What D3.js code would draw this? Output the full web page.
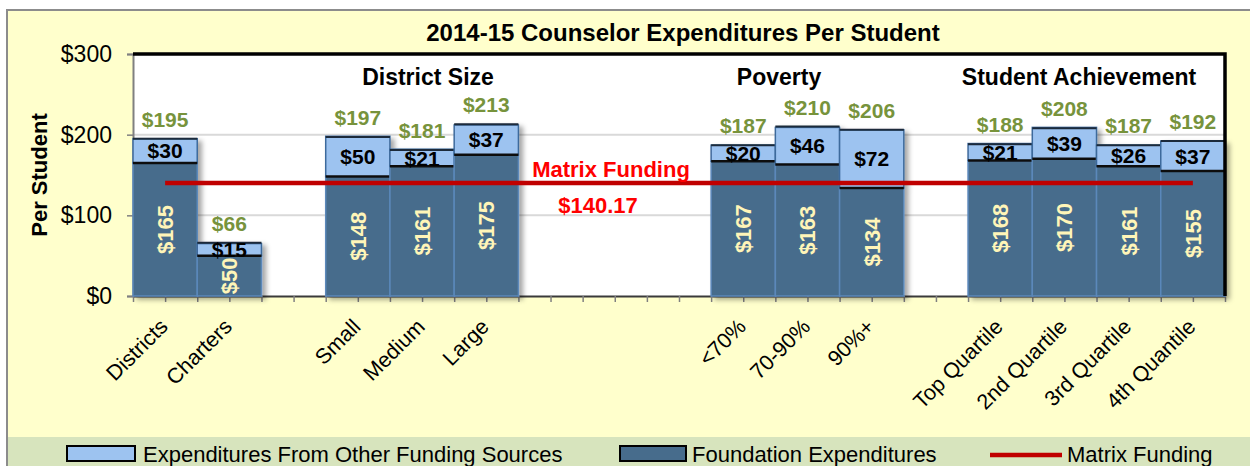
<!DOCTYPE html>
<html>
<head>
<meta charset="utf-8">
<script src="https://cdn.jsdelivr.net/npm/d3@7"></script>
<style>
  body { margin: 0; background: #fff; }
  svg text { font-family: "Liberation Sans Narrow", "Arial Narrow", "Liberation Sans", sans-serif; }
</style>
</head>
<body>
<svg id="chart" width="1250" height="466"></svg>
<script>
// slots with "" are the empty spacer columns between groups
const categories = ["Districts", "Charters", "", "Small", "Medium", "Large", "", "", "",
  "<70%", "70-90%", "90%+", "", "Top Quartile", "2nd Quartile", "3rd Quartile", "4th Quantile"]
const foundation = [165, 50, 0, 148, 161, 175, 0, 0, 0, 167, 163, 134, 0, 168, 170, 161, 155]
const otherSources = [30, 15, 0, 50, 21, 37, 0, 0, 0, 20, 46, 72, 0, 21, 39, 26, 37]
const totals = [195, 66, 0, 197, 181, 213, 0, 0, 0, 187, 210, 206, 0, 188, 208, 187, 192]
const matrixFunding = 140.17
const groupLabels = ["District Size", "Poverty", "Student Achievement"]
const yTicks = [0, 100, 200, 300]

const svg = d3.select("#chart")

const plotLeft = 133, plotRight = 1225, plotTop = 54, plotBottom = 296

const x = d3.scaleBand()
  .domain(d3.range(categories.length))
  .range([plotLeft, plotRight])
  .padding(0)
const bw = x.bandwidth()

const y = d3.scaleLinear()
  .domain([0, 300])
  .range([plotBottom, plotTop])

// drop shadow for bars
const defs = svg.append("defs")
defs.append("filter")
  .attr("id", "shadow")
  .attr("x", "-10%").attr("y", "-10%").attr("width", "130%").attr("height", "130%")
  .append("feDropShadow")
  .attr("dx", 4).attr("dy", 3)
  .attr("stdDeviation", 2.5)
  .attr("flood-color", "#000")
  .attr("flood-opacity", 0.35)

// chart background + frame
svg.append("rect")
  .attr("x", 7).attr("y", 10)
  .attr("width", 1250).attr("height", 470)
  .attr("fill", "#FFFFCC")
  .attr("stroke", "#8C8C8C")
  .attr("stroke-width", 2)

// legend band
svg.append("rect")
  .attr("x", 8).attr("y", 437)
  .attr("width", 1242).attr("height", 30)
  .attr("fill", "#D7E4BD")

// plot area
svg.append("rect")
  .attr("x", plotLeft).attr("y", plotTop)
  .attr("width", plotRight - plotLeft).attr("height", plotBottom - plotTop)
  .attr("fill", "#fff")

svg.append("g")
  .selectAll("line")
  .data([100, 200])
  .enter()
  .append("line")
  .attr("x1", plotLeft).attr("x2", plotRight)
  .attr("y1", d => y(d)).attr("y2", d => y(d))
  .attr("stroke", "#D9D9D9")
  .attr("stroke-width", 2)

// title
svg.append("text")
  .attr("x", 683).attr("y", 41)
  .attr("text-anchor", "middle")
  .attr("font-size", 24)
  .attr("font-weight", "bold")
  .text("2014-15 Counselor Expenditures Per Student")

// y axis
const yAxis = svg.append("g")
  .attr("transform", "translate(" + plotLeft + ",0)")
  .call(d3.axisLeft(y).tickValues(yTicks).tickFormat(d => "$" + d).tickSize(6).tickPadding(15))
yAxis.select(".domain").attr("stroke", "#808080").attr("stroke-width", 2)
yAxis.selectAll(".tick line").attr("stroke", "#808080").attr("stroke-width", 1.5)
yAxis.selectAll(".tick text")
  .attr("font-size", 23)
  .attr("fill", "#000")
  .attr("font-family", "\"Liberation Sans Narrow\", \"Arial Narrow\", sans-serif")

svg.append("text")
  .attr("transform", "translate(47,175) rotate(-90)")
  .attr("text-anchor", "middle")
  .attr("font-size", 22)
  .attr("font-weight", "bold")
  .text("Per Student")

// x axis ticks at every half category
const xTickScale = d3.scaleLinear().domain([0, categories.length]).range([plotLeft, plotRight])
const xAxis = svg.append("g")
  .attr("transform", "translate(0," + plotBottom + ")")
  .call(d3.axisBottom(xTickScale)
    .tickValues(d3.range(0, categories.length + 0.5, 0.5))
    .tickFormat("")
    .tickSize(6)
    .tickSizeOuter(0))
xAxis.select(".domain").attr("stroke", "#3A3A3A").attr("stroke-width", 2)
xAxis.selectAll(".tick line").attr("stroke", "#808080").attr("stroke-width", 1.5)

// bars
const bars = svg.append("g")
  .attr("filter", "url(#shadow)")
  .selectAll("g")
  .data(categories.map((c, i) => i).filter(i => totals[i] > 0))
  .enter()
  .append("g")

bars.append("rect")
  .attr("x", i => x(i))
  .attr("y", i => y(foundation[i]))
  .attr("width", bw)
  .attr("height", i => y(0) - y(foundation[i]))
  .attr("fill", "#476C8C")
  .attr("stroke", "#5B88BA")
  .attr("stroke-width", 1.5)

bars.append("rect")
  .attr("x", i => x(i))
  .attr("y", i => y(foundation[i] + otherSources[i]))
  .attr("width", bw)
  .attr("height", i => y(foundation[i]) - y(foundation[i] + otherSources[i]))
  .attr("fill", "#9DC3F0")
  .attr("stroke", "#3E6A9C")
  .attr("stroke-width", 1.5)

// dark edges on top of each segment
bars.append("line")
  .attr("x1", i => x(i)).attr("x2", i => x(i) + bw)
  .attr("y1", i => y(foundation[i])).attr("y2", i => y(foundation[i]))
  .attr("stroke", "#111").attr("stroke-width", 2.5)
bars.append("line")
  .attr("x1", i => x(i)).attr("x2", i => x(i) + bw)
  .attr("y1", i => y(totals[i])).attr("y2", i => y(totals[i]))
  .attr("stroke", "#1A2A3A").attr("stroke-width", 2)

// plot border (top + right)
svg.append("path")
  .attr("d", "M" + plotLeft + "," + plotTop + "H" + plotRight + "V" + plotBottom)
  .attr("fill", "none")
  .attr("stroke", "#000")
  .attr("stroke-width", 3.5)

// matrix funding line
const matrixLine = d3.line()
  .x(i => x(i) + bw / 2)
  .y(() => y(matrixFunding))
svg.append("path")
  .datum([0, categories.length - 1])
  .attr("d", matrixLine)
  .attr("stroke", "#C00000")
  .attr("stroke-width", 4.5)
  .attr("fill", "none")

// value labels
const labels = svg.append("g")
  .selectAll("g")
  .data(categories.map((c, i) => i).filter(i => totals[i] > 0))
  .enter()
  .append("g")

labels.append("text")
  .attr("x", i => x(i) + bw / 2)
  .attr("y", i => y(totals[i]) - 12)
  .attr("text-anchor", "middle")
  .attr("font-size", 21)
  .attr("font-weight", "bold")
  .attr("fill", "#77933C")
  .text(i => "$" + totals[i])

labels.append("text")
  .attr("x", i => x(i) + bw / 2)
  .attr("y", i => (y(totals[i]) + y(foundation[i])) / 2)
  .attr("dy", "0.36em")
  .attr("text-anchor", "middle")
  .attr("font-size", 21)
  .attr("font-weight", "bold")
  .attr("fill", "#000")
  .text(i => "$" + otherSources[i])

labels.append("text")
  .attr("transform", i => "translate(" + (x(i) + bw / 2) + "," + ((y(foundation[i]) + y(0)) / 2) + ") rotate(-90)")
  .attr("dy", "0.36em")
  .attr("text-anchor", "middle")
  .attr("font-size", 22)
  .attr("font-weight", "bold")
  .attr("fill", "#FFF5B8")
  .text(i => "$" + foundation[i])

// category labels
svg.append("g")
  .selectAll("text")
  .data(categories.map((c, i) => i).filter(i => categories[i] !== ""))
  .enter()
  .append("text")
  .attr("transform", i => "translate(" + (x(i) + bw / 2 + 4) + ",328) rotate(-45)")
  .attr("text-anchor", "end")
  .attr("font-size", 21.5)
  .attr("font-family", "\"Liberation Sans\", Arial, sans-serif")
  .text(i => categories[i])

// group headings
const groupX = [428, 779, 1079]
svg.append("g")
  .selectAll("text")
  .data(groupLabels)
  .enter()
  .append("text")
  .attr("x", (d, i) => groupX[i])
  .attr("y", 85)
  .attr("text-anchor", "middle")
  .attr("font-size", 23)
  .attr("font-weight", "bold")
  .text(d => d)

// matrix funding annotation
svg.append("text")
  .attr("x", 611).attr("y", 177)
  .attr("text-anchor", "middle")
  .attr("font-size", 22)
  .attr("font-weight", "bold")
  .attr("fill", "#FF0000")
  .text("Matrix Funding")
svg.append("text")
  .attr("x", 598).attr("y", 213)
  .attr("text-anchor", "middle")
  .attr("font-size", 22)
  .attr("font-weight", "bold")
  .attr("fill", "#FF0000")
  .text("$" + matrixFunding.toFixed(2))

// legend
const legend = svg.append("g")
legend.append("rect")
  .attr("x", 67).attr("y", 446).attr("width", 68).attr("height", 15)
  .attr("fill", "#9DC3F0").attr("stroke", "#000").attr("stroke-width", 2)
legend.append("text")
  .attr("x", 143).attr("y", 462).attr("font-size", 22)
  .text("Expenditures From Other Funding Sources")
legend.append("rect")
  .attr("x", 620).attr("y", 446).attr("width", 66).attr("height", 15)
  .attr("fill", "#476C8C").attr("stroke", "#000").attr("stroke-width", 2)
legend.append("text")
  .attr("x", 692).attr("y", 462).attr("font-size", 22)
  .text("Foundation Expenditures")
legend.append("line")
  .attr("x1", 990).attr("x2", 1062).attr("y1", 455).attr("y2", 455)
  .attr("stroke", "#C00000").attr("stroke-width", 4.5)
legend.append("text")
  .attr("x", 1067).attr("y", 462).attr("font-size", 22)
  .text("Matrix Funding")
</script>
</body>
</html>
